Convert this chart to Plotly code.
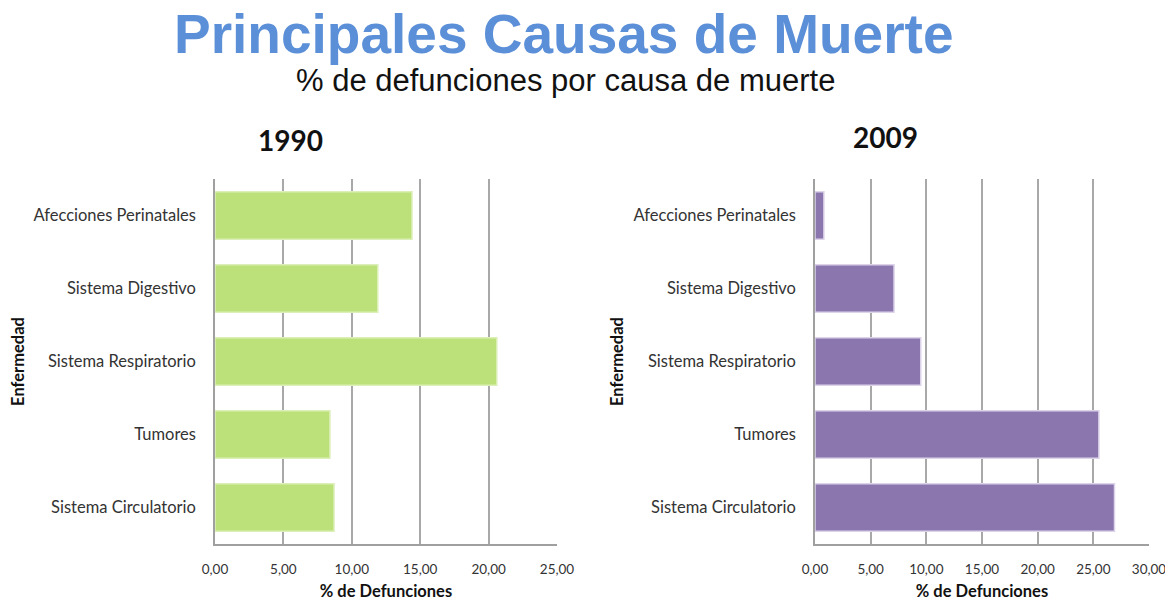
import plotly.graph_objects as go

categories = ["Afecciones Perinatales", "Sistema Digestivo", "Sistema Respiratorio", "Tumores", "Sistema Circulatorio"]
values_1990 = [14.4, 11.9, 20.6, 8.4, 8.7]
values_2009 = [0.8, 7.1, 9.5, 25.5, 26.9]
ticks_1990 = [0, 5, 10, 15, 20, 25]
ticks_2009 = [0, 5, 10, 15, 20, 25, 30]
tick_text_1990 = ["0,00", "5,00", "10,00", "15,00", "20,00", "25,00"]
tick_text_2009 = ["0,00", "5,00", "10,00", "15,00", "20,00", "25,00", "30,00"]

# page body has an 8px margin; size the figure so it fits the 1173x604 window
OFF = 8
W, H = 1173 - OFF, 604 - OFF
def px(x):
    return (x - OFF) / W
def py(y):
    return 1 - (y - OFF) / H

fig = go.Figure()
fig.add_trace(go.Bar(y=categories, x=values_1990, orientation="h", xaxis="x", yaxis="y",
                     marker=dict(color="#bde17a", line=dict(color="#dcefb8", width=1.5)),
                     showlegend=False))
fig.add_trace(go.Bar(y=categories, x=values_2009, orientation="h", xaxis="x2", yaxis="y2",
                     marker=dict(color="#8b77ae", line=dict(color="#ddd4ea", width=1.5)),
                     showlegend=False))

FONT = "Lato, Open Sans, sans-serif"
xtickfont = dict(family=FONT, size=13.5, color="#333")
ytickfont = dict(family=FONT, size=16.5, color="#333")
titlefont = dict(family=FONT, size=16.5, color="#111")
ydom = [py(544), py(179)]

common_x = dict(showgrid=True, gridcolor="#a8a8a8", gridwidth=2, showline=True, linecolor="#a0a0a0",
                linewidth=1.5, ticks="", tickfont=xtickfont, ticklabelstandoff=12, automargin=False,
                zeroline=False, title=dict(text="<b>% de Defunciones</b>", font=titlefont, standoff=9))
common_y = dict(showgrid=False, showline=True, linecolor="#a0a0a0", linewidth=1.5, ticks="",
                tickfont=ytickfont, autorange="reversed", categoryorder="array", categoryarray=categories,
                ticklabelstandoff=14, automargin=False,
                title=dict(text="<b>Enfermedad</b>", font=titlefont, standoff=6))

def ann(text, x, y, size, color, family, bold=False):
    return dict(text=f"<b>{text}</b>" if bold else text, x=px(x), y=py(y), xref="paper", yref="paper",
                xanchor="center", yanchor="middle", showarrow=False,
                font=dict(family=family, size=size, color=color))

fig.update_layout(
    width=W, height=H,
    margin=dict(l=0, r=0, t=0, b=0),
    paper_bgcolor="white", plot_bgcolor="white",
    bargap=0.35,
    xaxis=dict(domain=[px(215), px(557)], range=[0, 25], tickvals=ticks_1990, ticktext=tick_text_1990,
               anchor="y", **common_x),
    yaxis=dict(domain=ydom, anchor="x", **common_y),
    xaxis2=dict(domain=[px(815), px(1149)], range=[0, 30], tickvals=ticks_2009, ticktext=tick_text_2009,
                anchor="y2", **common_x),
    yaxis2=dict(domain=ydom, anchor="x2", **common_y),
    annotations=[
        ann("Principales Causas de Muerte", 563, 34, 55, "#5b8fd8", "Liberation Sans, Arial, sans-serif", True),
        ann("% de defunciones por causa de muerte", 565, 80, 31, "#111", "Liberation Sans, Arial, sans-serif"),
        ann("1990", 290, 140, 28, "#111", FONT, True),
        ann("2009", 885, 137, 28, "#111", FONT, True),
    ],
)

fig.write_html("out.html")
